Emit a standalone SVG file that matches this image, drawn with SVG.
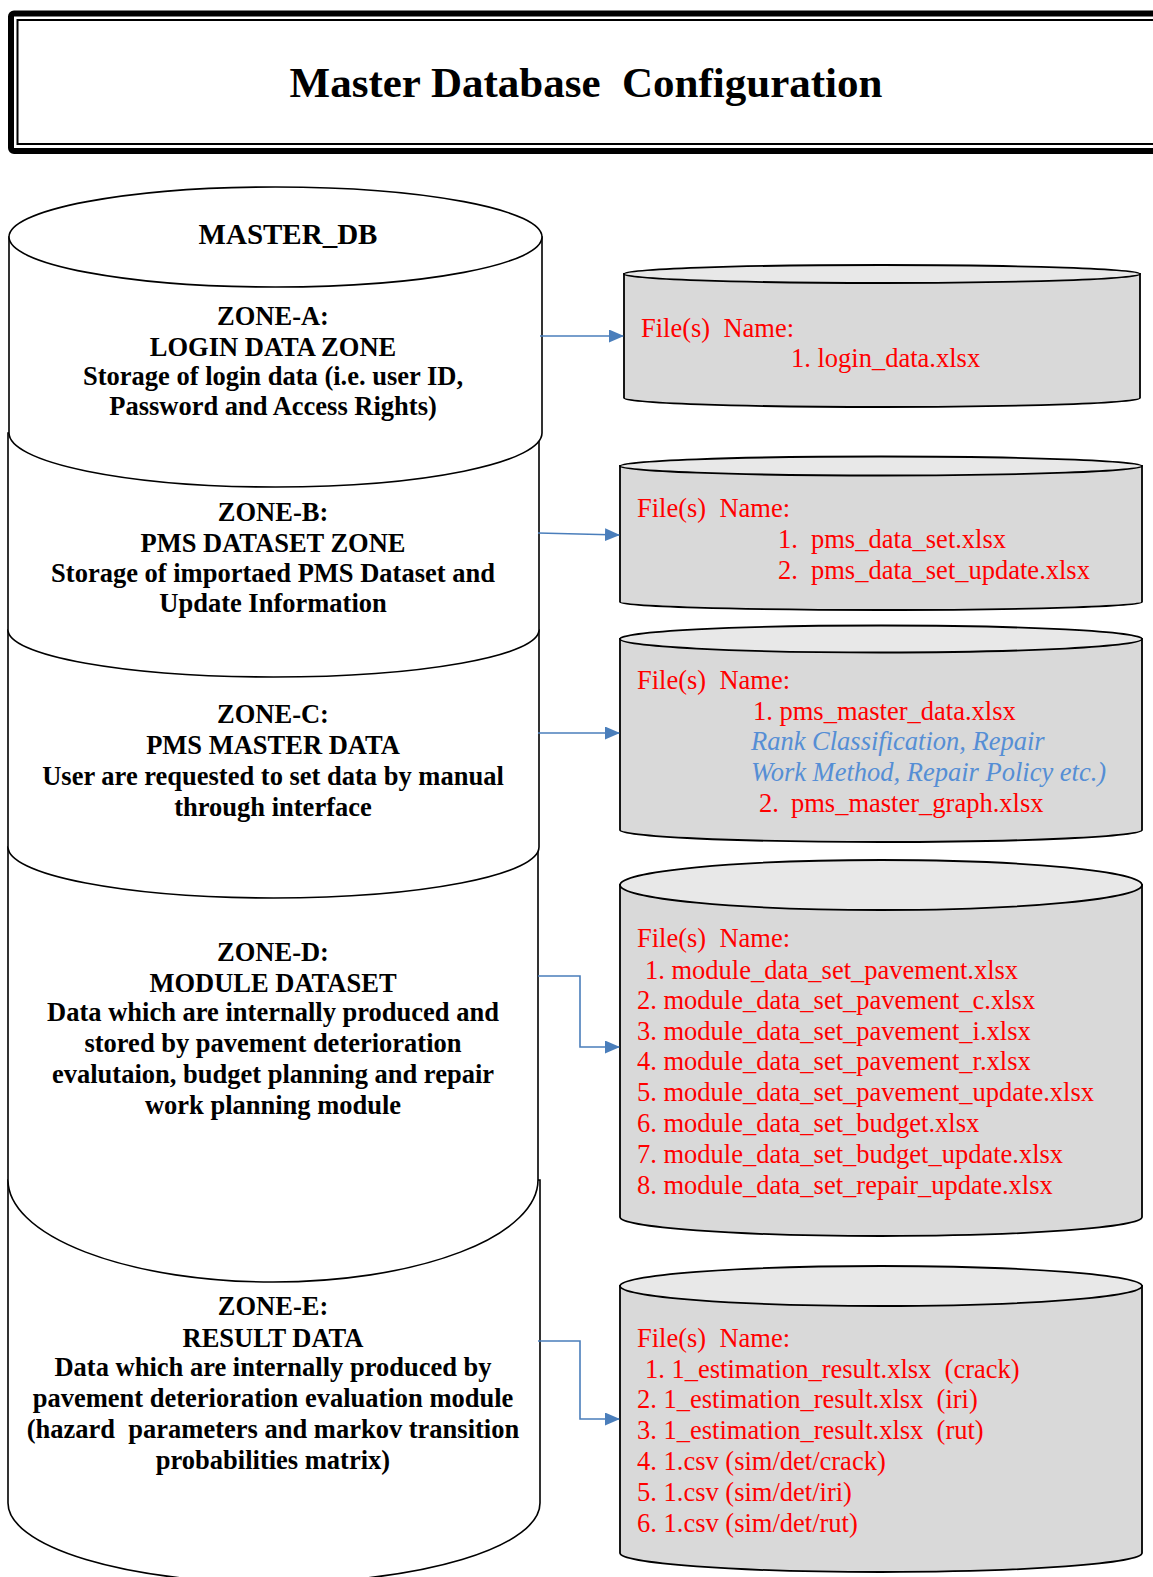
<svg xmlns="http://www.w3.org/2000/svg" width="1153" height="1577" viewBox="0 0 1153 1577">
  <style>
    .serif { font-family: "Liberation Serif", "Times New Roman", serif; }
    .title { font-size: 43px; font-weight: bold; fill: #000; text-anchor: middle; }
    .dbname { font-size: 29px; font-weight: bold; fill: #000; text-anchor: middle; }
    .zone { font-size: 26.5px; font-weight: bold; fill: #000; text-anchor: middle; }
    .seg { fill: #ffffff; stroke: #000; stroke-width: 1.6; }
    .store { fill: #d9d9d9; stroke: #000; stroke-width: 1.8; }
    .store-top { fill: #e8e8e8; stroke: #000; stroke-width: 1.8; }
    .file { font-size: 26.5px; fill: #ff0000; }
    .note { font-size: 26.5px; font-style: italic; fill: #558ed5; }
    .link { fill: none; stroke: #4a7ebb; stroke-width: 1.6; }
  </style>
  <defs>
    <marker id="arrow" markerUnits="userSpaceOnUse" markerWidth="15" markerHeight="13" refX="14" refY="6.5" orient="auto">
      <path d="M0,0 L15,6.5 L0,13 Z" fill="#4a7ebb"/>
    </marker>
  </defs>

  <rect width="1153" height="1577" fill="#ffffff"/>

  <!-- title banner with double border -->
  <g id="title">
    <rect x="11" y="13.5" width="1200" height="137.5" rx="3" fill="#ffffff" stroke="#000" stroke-width="6"/>
    <rect x="17.5" y="20" width="1200" height="124" fill="none" stroke="#000" stroke-width="2"/>
    <text class="serif title" x="586" y="97" xml:space="preserve">Master Database  Configuration</text>
  </g>

  <!-- MASTER_DB stacked cylinder: lower segments first so upper ones overlap them -->
  <g id="zone-e">
    <path class="seg" d="M8,1180 L8,1503 A266 80 0 0 0 540,1503 L540,1180 Z"/>
    <text class="serif zone" x="273" y="1315">ZONE-E:</text>
    <text class="serif zone" x="273" y="1347">RESULT DATA</text>
    <text class="serif zone" x="273" y="1376">Data which are internally produced by</text>
    <text class="serif zone" x="273" y="1407">pavement deterioration evaluation module</text>
    <text class="serif zone" x="273" y="1438" xml:space="preserve">(hazard  parameters and markov transition</text>
    <text class="serif zone" x="273" y="1469">probabilities matrix)</text>
  </g>
  <g id="zone-d">
    <path class="seg" d="M8,847 L8,1180 A265 102 0 0 0 538,1180 L538,847 Z"/>
    <text class="serif zone" x="273" y="961">ZONE-D:</text>
    <text class="serif zone" x="273" y="992">MODULE DATASET</text>
    <text class="serif zone" x="273" y="1021">Data which are internally produced and</text>
    <text class="serif zone" x="273" y="1052">stored by pavement deterioration</text>
    <text class="serif zone" x="273" y="1083">evalutaion, budget planning and repair</text>
    <text class="serif zone" x="273" y="1114">work planning module</text>
  </g>
  <g id="zone-c">
    <path class="seg" d="M8,630 L8,847 A265.5 51 0 0 0 539,847 L539,630 Z"/>
    <text class="serif zone" x="273" y="723">ZONE-C:</text>
    <text class="serif zone" x="273" y="754">PMS MASTER DATA</text>
    <text class="serif zone" x="273" y="785">User are requested to set data by manual</text>
    <text class="serif zone" x="273" y="816">through interface</text>
  </g>
  <g id="zone-b">
    <path class="seg" d="M8,433 L8,630 A265.5 47 0 0 0 539,630 L539,433 Z"/>
    <text class="serif zone" x="273" y="521">ZONE-B:</text>
    <text class="serif zone" x="273" y="552">PMS DATASET ZONE</text>
    <text class="serif zone" x="273" y="582">Storage of importaed PMS Dataset and</text>
    <text class="serif zone" x="273" y="612">Update Information</text>
  </g>
  <g id="zone-a">
    <path class="seg" d="M9,237 L9,433 A266.5 54 0 0 0 542,433 L542,237 Z"/>
    <text class="serif zone" x="273" y="325">ZONE-A:</text>
    <text class="serif zone" x="273" y="356">LOGIN DATA ZONE</text>
    <text class="serif zone" x="273" y="385">Storage of login data (i.e. user ID,</text>
    <text class="serif zone" x="273" y="415">Password and Access Rights)</text>
  </g>
  <g id="master-db">
    <ellipse class="seg" cx="275.5" cy="237" rx="266.5" ry="50"/>
    <text class="serif dbname" x="288" y="244">MASTER_DB</text>
  </g>

  <!-- file stores -->
  <g id="store-login">
    <path class="store" d="M624,274 L624,398 A258 9 0 0 0 1140,398 L1140,274 Z"/>
    <ellipse class="store-top" cx="882" cy="274" rx="258" ry="9"/>
    <text class="serif file" x="641" y="337" xml:space="preserve">File(s)  Name:</text>
    <text class="serif file" x="791" y="367">1. login_data.xlsx</text>
  </g>
  <g id="store-pms-dataset">
    <path class="store" d="M620,466 L620,602 A261 8 0 0 0 1142,602 L1142,466 Z"/>
    <ellipse class="store-top" cx="881" cy="466" rx="261" ry="9.5"/>
    <text class="serif file" x="637" y="517" xml:space="preserve">File(s)  Name:</text>
    <text class="serif file" y="548"><tspan x="778">1.</tspan><tspan x="811">pms_data_set.xlsx</tspan></text>
    <text class="serif file" y="579"><tspan x="778">2.</tspan><tspan x="811">pms_data_set_update.xlsx</tspan></text>
  </g>
  <g id="store-pms-master">
    <path class="store" d="M620,639 L620,830 A261 12 0 0 0 1142,830 L1142,639 Z"/>
    <ellipse class="store-top" cx="881" cy="639" rx="261" ry="13.5"/>
    <text class="serif file" x="637" y="689" xml:space="preserve">File(s)  Name:</text>
    <text class="serif file" x="753" y="720">1. pms_master_data.xlsx</text>
    <text class="serif note" x="751" y="750">Rank Classification, Repair</text>
    <text class="serif note" x="751" y="781">Work Method, Repair Policy etc.)</text>
    <text class="serif file" y="812"><tspan x="759">2.</tspan><tspan x="791">pms_master_graph.xlsx</tspan></text>
  </g>
  <g id="store-module">
    <path class="store" d="M620,885 L620,1217 A261 19 0 0 0 1142,1217 L1142,885 Z"/>
    <ellipse class="store-top" cx="881" cy="885" rx="261" ry="25"/>
    <text class="serif file" x="637" y="947" xml:space="preserve">File(s)  Name:</text>
    <text class="serif file" x="645" y="979">1. module_data_set_pavement.xlsx</text>
    <text class="serif file" x="637" y="1009">2. module_data_set_pavement_c.xlsx</text>
    <text class="serif file" x="637" y="1040">3. module_data_set_pavement_i.xlsx</text>
    <text class="serif file" x="637" y="1070">4. module_data_set_pavement_r.xlsx</text>
    <text class="serif file" x="637" y="1101">5. module_data_set_pavement_update.xlsx</text>
    <text class="serif file" x="637" y="1132">6. module_data_set_budget.xlsx</text>
    <text class="serif file" x="637" y="1163">7. module_data_set_budget_update.xlsx</text>
    <text class="serif file" x="637" y="1194">8. module_data_set_repair_update.xlsx</text>
  </g>
  <g id="store-result">
    <path class="store" d="M620,1286 L620,1553 A261 19 0 0 0 1142,1553 L1142,1286 Z"/>
    <ellipse class="store-top" cx="881" cy="1286" rx="261" ry="20"/>
    <text class="serif file" x="637" y="1347" xml:space="preserve">File(s)  Name:</text>
    <text class="serif file" x="645" y="1378" xml:space="preserve">1. 1_estimation_result.xlsx  (crack)</text>
    <text class="serif file" x="637" y="1408" xml:space="preserve">2. 1_estimation_result.xlsx  (iri)</text>
    <text class="serif file" x="637" y="1439" xml:space="preserve">3. 1_estimation_result.xlsx  (rut)</text>
    <text class="serif file" x="637" y="1470">4. 1.csv (sim/det/crack)</text>
    <text class="serif file" x="637" y="1501">5. 1.csv (sim/det/iri)</text>
    <text class="serif file" x="637" y="1532">6. 1.csv (sim/det/rut)</text>
  </g>

  <!-- connectors from each zone to its file store -->
  <g id="connectors">
    <path class="link" marker-end="url(#arrow)" d="M540,336 L623,336"/>
    <path class="link" marker-end="url(#arrow)" d="M538,533 L619,535"/>
    <path class="link" marker-end="url(#arrow)" d="M538,733 L619,733"/>
    <path class="link" marker-end="url(#arrow)" d="M538,976 L580,976 L580,1047 L619,1047"/>
    <path class="link" marker-end="url(#arrow)" d="M538,1341 L580,1341 L580,1419 L619,1419"/>
  </g>
</svg>
